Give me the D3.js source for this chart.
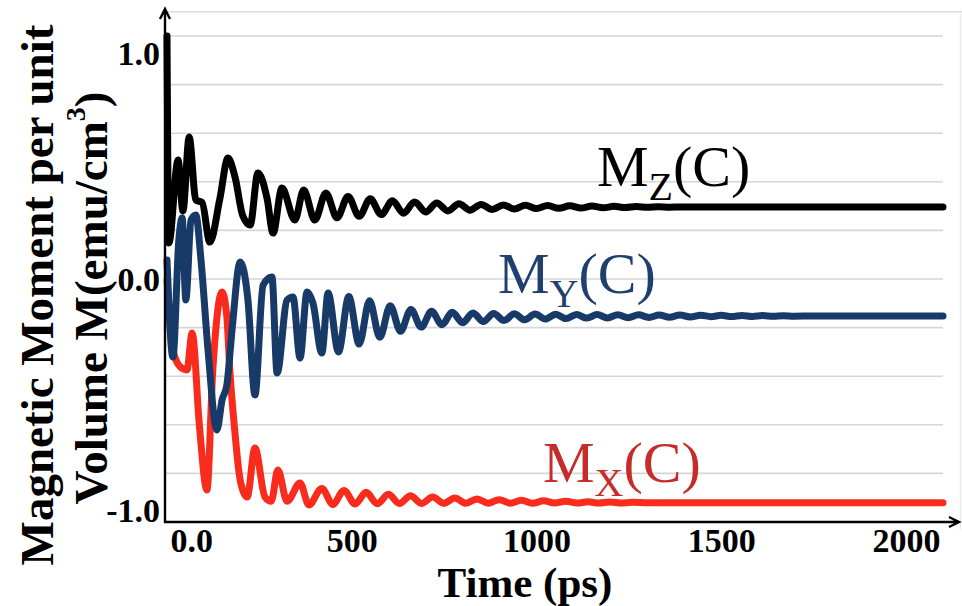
<!DOCTYPE html>
<html>
<head>
<meta charset="utf-8">
<script src="https://cdn.jsdelivr.net/npm/d3@7"></script>
<style>
  body { margin: 0; background: #fff; }
  svg { display: block; }
  .grid line { stroke: #d6d6d6; stroke-width: 1.6; }
  .axis text { font-family: "Liberation Serif", "Times New Roman", serif; font-weight: bold; fill: #000; }
  .title { font-family: "Liberation Serif", "Times New Roman", serif; font-weight: bold; fill: #000; }
  .series-label { font-family: "Liberation Serif", "Times New Roman", serif; }
  .curve { fill: none; stroke-width: 7; stroke-linejoin: round; stroke-linecap: round; }
</style>
</head>
<body>
<div id="chart"></div>
<script>
// ---- data (time in ps, moment in emu/cm^3) ----
const timeTicks = [0, 500, 1000, 1500, 2000];
const timeTickLabels = ["0.0", "500", "1000", "1500", "2000"];
const momentTicks = [-1, 0, 1];
const momentTickLabels = ["-1.0", "0.0", "1.0"];
const gridValues = [-0.8, -0.6, -0.4, -0.2, 0, 0.2, 0.4, 0.6, 0.8, 1.0];

const seriesNames = ["Mx", "My", "Mz"];
const seriesLabels = ["X", "Y", "Z"];

const mzData = [
  [0, 1.0], [5, 0.148], [30, 0.49], [43, 0.28], [60, 0.584], [78, 0.325], [95, 0.315],
  [116, 0.152], [143, 0.33], [165, 0.498], [184, 0.42], [205, 0.26], [225, 0.222],
  [246, 0.436], [271, 0.33], [287, 0.189], [311, 0.374], [346, 0.243], [370, 0.366],
  [400, 0.243], [430, 0.354], [460, 0.252], [490, 0.340], [520, 0.258], [550, 0.330],
  [580, 0.265], [610, 0.322], [640, 0.271], [670, 0.317], [700, 0.276], [730, 0.313],
  [760, 0.280], [790, 0.310], [820, 0.283], [850, 0.307], [880, 0.286], [910, 0.305],
  [940, 0.288], [970, 0.303], [1000, 0.290], [1030, 0.302], [1060, 0.291], [1090, 0.301],
  [1120, 0.292], [1150, 0.300], [1180, 0.293], [1210, 0.299], [1240, 0.294], [1270, 0.298],
  [1300, 0.295], [1330, 0.297], [1360, 0.2955], [1390, 0.2965], [1450, 0.296], [2100, 0.296]
];

const myData = [
  [0, 0.078], [16, -0.321], [32, 0.16], [41, 0.251], [51, -0.086], [65, 0.243], [78, 0.263],
  [92, 0.078], [111, -0.292], [135, -0.621], [149, -0.498], [162, -0.436], [176, -0.21],
  [198, 0.07], [219, -0.086], [238, -0.477], [260, -0.025], [284, 0.008], [298, -0.387],
  [325, -0.086], [341, -0.074], [360, -0.325], [379, -0.053], [395, -0.099], [419, -0.305],
  [436, -0.058], [464, -0.300], [492, -0.072], [520, -0.268], [548, -0.090], [576, -0.240],
  [604, -0.110], [632, -0.215], [660, -0.125], [688, -0.198], [716, -0.133], [744, -0.188],
  [772, -0.137], [800, -0.180], [828, -0.140], [856, -0.175], [884, -0.142], [912, -0.171],
  [940, -0.143], [968, -0.168], [996, -0.144], [1024, -0.165], [1052, -0.145], [1080, -0.163],
  [1108, -0.146], [1136, -0.161], [1164, -0.1465], [1192, -0.160], [1220, -0.147],
  [1248, -0.159], [1276, -0.1475], [1304, -0.158], [1332, -0.148], [1360, -0.157],
  [1388, -0.1485], [1416, -0.156], [1444, -0.149], [1472, -0.155], [1500, -0.1495],
  [1528, -0.1545], [1556, -0.150], [1584, -0.154], [1612, -0.1505], [1640, -0.1535],
  [1668, -0.151], [1696, -0.153], [1750, -0.152], [2100, -0.152]
];

const mxData = [
  [0, -0.004], [16, -0.29], [35, -0.36], [54, -0.374], [68, -0.222], [88, -0.61],
  [108, -0.868], [124, -0.374], [149, -0.053], [162, -0.156], [170, -0.374], [184, -0.634],
  [198, -0.827], [217, -0.897], [238, -0.695], [265, -0.897], [282, -0.915], [300, -0.786],
  [325, -0.915], [360, -0.840], [384, -0.930], [419, -0.862], [449, -0.928], [479, -0.870],
  [509, -0.926], [539, -0.878], [569, -0.925], [599, -0.886], [629, -0.924], [659, -0.892],
  [689, -0.924], [719, -0.897], [749, -0.923], [779, -0.901], [809, -0.923], [839, -0.905],
  [869, -0.923], [899, -0.908], [929, -0.923], [959, -0.911], [989, -0.923], [1019, -0.913],
  [1049, -0.922], [1079, -0.915], [1109, -0.922], [1139, -0.917], [1169, -0.922],
  [1199, -0.918], [1229, -0.922], [1259, -0.919], [1300, -0.921], [2100, -0.921]
];

const width = 962,
  height = 606,
  margin = { top: 36, bottom: 84, left: 165, right: 19 },
  lineColors = { Mx: "#f82b1c", My: "#173a68", Mz: "#000000" },
  labelColors = { Mx: "#c52d2b", My: "#1f3f6f", Mz: "#000000" };

const svg = d3.select("#chart")
  .append("svg")
  .attr("width", width)
  .attr("height", height);

const xScale = d3.scaleLinear()
  .domain([0, 2100])
  .range([margin.left + 2, width - margin.right]);

const yScale = d3.scaleLinear()
  .domain([-1, 1])
  .range([height - margin.bottom, margin.top]);

// gridlines + faint frame
svg.append("g")
  .attr("class", "grid")
  .selectAll("line")
  .data(gridValues)
  .join("line")
  .attr("x1", margin.left)
  .attr("x2", width - margin.right)
  .attr("y1", d => yScale(d))
  .attr("y2", d => yScale(d));

svg.append("line")
  .attr("x1", margin.left).attr("x2", width)
  .attr("y1", yScale(1.1)).attr("y2", yScale(1.1))
  .attr("stroke", "#dcdcdc").attr("stroke-width", 1.6);

svg.append("line")
  .attr("x1", width - 1.5).attr("x2", width - 1.5)
  .attr("y1", yScale(1.1)).attr("y2", yScale(-1) + 8)
  .attr("stroke", "#ececec").attr("stroke-width", 1.5);

// curves
const line = d3.line()
  .x(d => xScale(d[0]))
  .y(d => yScale(d[1]))
  .curve(d3.curveMonotoneX);

const seriesData = { Mx: mxData, My: myData, Mz: mzData };

svg.selectAll(".curve")
  .data(seriesNames)
  .join("path")
  .attr("class", "curve")
  .attr("stroke", d => lineColors[d])
  .attr("d", d => line(seriesData[d]));

// x axis
const xAxis = d3.axisBottom(xScale)
  .tickValues(timeTicks)
  .tickSize(0)
  .tickPadding(6)
  .tickFormat((d, i) => timeTickLabels[i]);

const gx = svg.append("g")
  .attr("class", "axis x-axis")
  .attr("transform", `translate(0,${yScale(-1)})`)
  .call(xAxis);
gx.select(".domain").remove();
gx.selectAll("text")
  .attr("font-size", 34)
  .attr("text-anchor", d => d === 0 ? "start" : "middle")
  .attr("x", d => d === 0 ? 3 : 0);

// y axis
const yAxis = d3.axisLeft(yScale)
  .tickValues(momentTicks)
  .tickSize(0)
  .tickPadding(5)
  .tickFormat((d, i) => momentTickLabels[i]);

const gy = svg.append("g")
  .attr("class", "axis y-axis")
  .attr("transform", `translate(${margin.left},0)`)
  .call(yAxis);
gy.select(".domain").remove();
gy.selectAll("text")
  .attr("font-size", 34)
  .attr("dy", d => d === 1 ? "0.85em" : d === -1 ? "-0.02em" : "0.34em");

// axis lines with open arrowheads
const axisY0 = yScale(-1);
svg.append("path")
  .attr("d", `M${margin.left},${axisY0 + 1} V9 M${margin.left - 5},19 L${margin.left},9 L${margin.left + 5},19`)
  .attr("fill", "none").attr("stroke", "#000").attr("stroke-width", 2.4);
svg.append("path")
  .attr("d", `M${margin.left - 1},${axisY0} H959 M949,${axisY0 - 5} L959,${axisY0} L949,${axisY0 + 5}`)
  .attr("fill", "none").attr("stroke", "#000").attr("stroke-width", 2.4);

// series labels
const labelPos = {
  Mz: [597, 186],
  My: [498, 293],
  Mx: [543, 482]
};
seriesNames.forEach((name, i) => {
  const t = svg.append("text")
    .attr("class", "series-label")
    .attr("x", labelPos[name][0])
    .attr("y", labelPos[name][1])
    .attr("font-size", 58)
    .attr("fill", labelColors[name]);
  t.append("tspan").text("M");
  t.append("tspan").attr("font-size", 40).attr("dy", 14).text(seriesLabels[i]);
  t.append("tspan").attr("dy", -14).text("(C)");
});

// axis titles
svg.append("text")
  .attr("class", "title")
  .attr("font-size", 43)
  .attr("text-anchor", "middle")
  .attr("x", 525)
  .attr("y", 597)
  .text("Time (ps)");

svg.append("text")
  .attr("class", "title")
  .attr("font-size", 47)
  .attr("text-anchor", "middle")
  .attr("transform", "translate(53,295) rotate(-90)")
  .text("Magnetic Moment per unit");

const yTitle2 = svg.append("text")
  .attr("class", "title")
  .attr("font-size", 47)
  .attr("text-anchor", "middle")
  .attr("transform", "translate(107,298) rotate(-90)");
yTitle2.append("tspan").text("Volume M(emu/cm");
yTitle2.append("tspan").attr("font-size", 28).attr("dy", -22).text("3");
yTitle2.append("tspan").attr("dy", 22).text(")");
</script>
</body>
</html>
